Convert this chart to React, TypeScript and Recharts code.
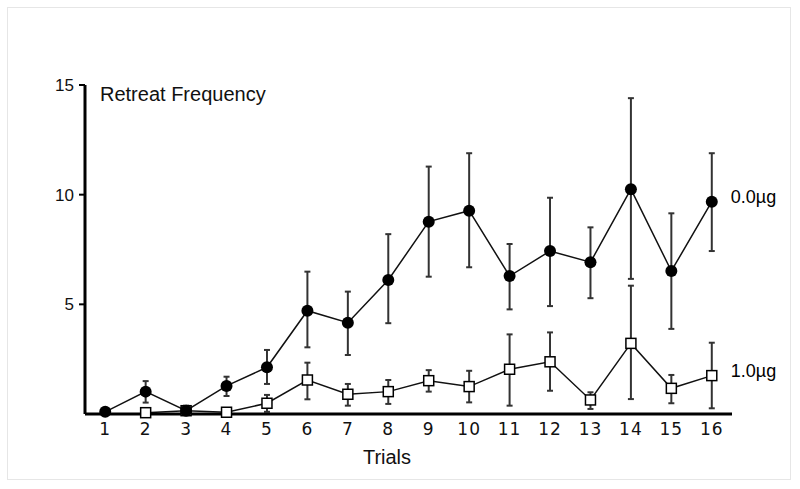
import React from 'react';
import { ComposedChart, Line, XAxis, YAxis, ErrorBar } from 'recharts';

const trials = [1, 2, 3, 4, 5, 6, 7, 8, 9, 10, 11, 12, 13, 14, 15, 16];

const ctrlMean = [0.1, 1.02, 0.15, 1.28, 2.13, 4.71, 4.16, 6.11, 8.77, 9.27, 6.29, 7.43, 6.92, 10.25, 6.52, 9.68];
const ctrlLow = [0.1, 0.52, 0.0, 0.82, 1.37, 3.04, 2.69, 4.14, 6.26, 6.69, 4.77, 4.92, 5.28, 6.16, 3.88, 7.43];
const ctrlHigh = [0.1, 1.5, 0.38, 1.7, 2.92, 6.49, 5.58, 8.2, 11.28, 11.89, 7.75, 9.86, 8.51, 14.4, 9.15, 11.89];

const drugMean = [null, 0.06, 0.15, 0.08, 0.49, 1.55, 0.9, 1.02, 1.52, 1.25, 2.04, 2.38, 0.64, 3.22, 1.17, 1.75];
const drugLow = [null, 0.0, 0.05, 0.08, 0.1, 0.67, 0.38, 0.46, 1.02, 0.53, 0.38, 1.06, 0.23, 0.68, 0.49, 0.26];
const drugHigh = [null, 0.26, 0.25, 0.08, 0.87, 2.34, 1.37, 1.55, 2.0, 1.97, 3.63, 3.72, 0.99, 5.85, 1.78, 3.25];

const xTicks = trials;
const yTicks = [5, 10, 15];
const ctrlLabel = '0.0\u00b5g';
const drugLabel = '1.0\u00b5g';
const yTitle = 'Retreat Frequency';
const xTitle = 'Trials';

const data = trials.map((t, i) => ({
  trial: t,
  ctrl: ctrlMean[i],
  ctrlErr: ctrlHigh[i] - ctrlLow[i] > 0 ? [ctrlMean[i] - ctrlLow[i], ctrlHigh[i] - ctrlMean[i]] : undefined,
  drug: drugMean[i],
  drugErr:
    drugMean[i] != null && (drugHigh[i] as number) - (drugLow[i] as number) > 0
      ? [(drugMean[i] as number) - (drugLow[i] as number), (drugHigh[i] as number) - (drugMean[i] as number)]
      : undefined,
}));

const last = trials.length - 1;
const TXT = "'DejaVu Sans', sans-serif";
const SANS = "'Liberation Sans', Arial, sans-serif";

const SquareDot = (props: any) => {
  const { cx, cy, index } = props;
  if (cx == null || cy == null || isNaN(cy)) return <g key={`sq-${index}`} />;
  return <rect key={`sq-${index}`} x={cx - 5} y={cy - 5} width={10} height={10} fill="#fff" stroke="#000" strokeWidth={1.5} />;
};

const CircleDot = (props: any) => {
  const { cx, cy, index } = props;
  if (cx == null || cy == null || isNaN(cy)) return <g key={`c-${index}`} />;
  return <circle key={`c-${index}`} cx={cx} cy={cy} r={6} fill="#000" />;
};

const makeLabel = (text: string) => (props: any) => {
  const { x, y, index } = props;
  if (index !== last) return <g key={`l-${index}`} />;
  return (
    <text key={`l-${index}`} x={x + 19} y={y - 3} dominantBaseline="middle" fontFamily={SANS} fontSize={18} fill="#000">
      {text}
    </text>
  );
};

const XTick = (props: any) => {
  const { x, y, payload } = props;
  return (
    <text x={x} y={y} dy="0.71em" textAnchor="middle" fontFamily={TXT} fontSize={17} letterSpacing={1} fill="#111">
      {payload.value}
    </text>
  );
};

export default function App() {
  return (
    <div style={{ position: 'absolute', left: 0, top: 0, width: 800, height: 489, background: '#fff' }}>
      <div
        style={{
          position: 'absolute',
          left: 7,
          top: 7,
          width: 784,
          height: 473,
          border: '1px solid #e6e6e6',
          boxSizing: 'border-box',
        }}
      />
      <div style={{ position: 'absolute', left: 0, top: 0 }}>
        <ComposedChart width={800} height={489} data={data} margin={{ top: 85, right: 68, left: 25, bottom: 45 }}>
          <XAxis
            dataKey="trial"
            type="number"
            domain={[0.5, 16.5]}
            ticks={xTicks}
            interval={0}
            height={30}
            tickLine={false}
            tickSize={6}
            tickMargin={3}
            axisLine={{ stroke: '#000', strokeWidth: 3 }}
            tick={<XTick />}
          />
          <YAxis
            type="number"
            domain={[0, 15]}
            ticks={yTicks}
            width={60}
            tickSize={6}
            tickMargin={5}
            tickLine={{ stroke: '#000', strokeWidth: 2 }}
            axisLine={{ stroke: '#000', strokeWidth: 3 }}
            tick={{ fill: '#111', fontSize: 17, fontFamily: SANS }}
          />
          <Line
            dataKey="drug"
            stroke="#111"
            strokeWidth={1.5}
            dot={SquareDot}
            activeDot={false}
            isAnimationActive={false}
            label={makeLabel(drugLabel)}
          >
            <ErrorBar dataKey="drugErr" direction="y" width={3} stroke="#333" strokeWidth={2} />
          </Line>
          <Line
            dataKey="ctrl"
            stroke="#111"
            strokeWidth={1.5}
            dot={CircleDot}
            activeDot={false}
            isAnimationActive={false}
            label={makeLabel(ctrlLabel)}
          >
            <ErrorBar dataKey="ctrlErr" direction="y" width={3} stroke="#333" strokeWidth={2} />
          </Line>
          <text x={100} y={101} fontFamily={SANS} fontSize={20} fill="#111">
            {yTitle}
          </text>
          <text x={387} y={464} textAnchor="middle" fontFamily={SANS} fontSize={20} fill="#111">
            {xTitle}
          </text>
        </ComposedChart>
      </div>
    </div>
  );
}
